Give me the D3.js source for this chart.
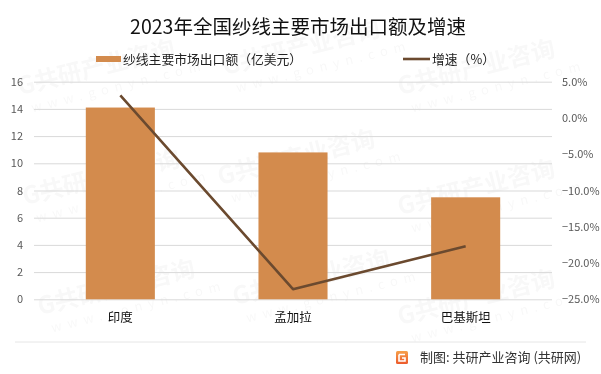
<!DOCTYPE html>
<html>
<head>
<meta charset="utf-8">
<script src="https://cdn.jsdelivr.net/npm/d3@7/dist/d3.min.js"></script>
<style type="text/css">
    body { margin: 0; padding: 0; background: #fff; }
    text { font-family: "Noto Sans CJK SC", "Noto Sans", sans-serif; }
</style>
</head>
<body>
<div id="chart"></div>
<script>
    var categories = ["印度", "孟加拉", "巴基斯坦"];
    var exportValues = [14.1, 10.8, 7.5];      // 亿美元
    var growthRates = [3.1, -23.6, -17.7];     // %
    var leftTicks = [0, 2, 4, 6, 8, 10, 12, 14, 16];
    var rightTicks = [5, 0, -5, -10, -15, -20, -25];

    var width = 601, height = 374;
    var plotLeft = 34, plotRight = 552, plotTop = 81.7, plotBottom = 299.3;
    var barColor = "#d38b4d", lineColor = "#6b4a2f";

    var svg = d3.select("#chart").append("svg")
        .attr("width", width)
        .attr("height", height);

    svg.append("rect").attr("width", width).attr("height", height).attr("fill", "#fff");

    // watermark
    var wm = svg.append("g").attr("opacity", 0.03);
    var spots = [[20, 95], [225, 75], [400, 95], [25, 205], [220, 185], [400, 215],
                 [40, 315], [235, 305], [400, 325]];
    spots.forEach(function(p) {
        var g = wm.append("g").attr("transform", "translate(" + p[0] + "," + p[1] + ") rotate(-14)");
        g.append("text").attr("font-size", 24).attr("font-weight", 700).attr("fill", "#000")
            .text("G共研产业咨询");
        g.append("text").attr("x", 8).attr("y", 20).attr("font-size", 13)
            .attr("letter-spacing", 6).attr("fill", "#000").text("www.gonyn.com");
    });

    var x = d3.scaleBand().domain(categories).range([plotLeft, plotRight]).padding(0);
    var yL = d3.scaleLinear().domain([0, 16]).range([plotBottom, plotTop]);
    var yR = d3.scaleLinear().domain([-25, 5]).range([plotBottom, plotTop]);

    // grid + left axis
    var gl = svg.append("g").attr("transform", "translate(" + plotLeft + ",0)")
        .call(d3.axisLeft(yL).tickValues(leftTicks).tickSize(-(plotRight - plotLeft)).tickPadding(11));
    gl.select(".domain").remove();
    gl.selectAll("line").attr("stroke", "#d9d9d9");
    gl.selectAll("text").attr("fill", "#595959").attr("font-size", 11);

    var gr = svg.append("g").attr("transform", "translate(" + plotRight + ",0)")
        .call(d3.axisRight(yR).tickValues(rightTicks).tickSize(0).tickPadding(10)
            .tickFormat(function(d) { return d3.format(".1f")(d) + "%"; }));
    gr.select(".domain").remove();
    gr.selectAll("text").attr("fill", "#595959").attr("font-size", 11);

    // bars
    var bw = x.bandwidth() * 0.4;
    svg.append("g").selectAll("rect")
        .data(exportValues)
        .join("rect")
        .attr("x", function(d, i) { return x(categories[i]) + x.bandwidth() / 2 - bw / 2; })
        .attr("y", function(d) { return yL(d); })
        .attr("width", bw)
        .attr("height", function(d) { return yL(0) - yL(d); })
        .attr("fill", barColor);

    // line
    var line = d3.line()
        .x(function(d, i) { return x(categories[i]) + x.bandwidth() / 2; })
        .y(function(d) { return yR(d); });
    svg.append("path").datum(growthRates)
        .attr("d", line)
        .attr("fill", "none")
        .attr("stroke", lineColor)
        .attr("stroke-width", 2.6)
        .attr("stroke-linejoin", "round");

    // category labels
    var gx = svg.append("g").attr("transform", "translate(0," + plotBottom + ")")
        .call(d3.axisBottom(x).tickSize(0).tickPadding(14));
    gx.select(".domain").remove();
    gx.selectAll("text").attr("fill", "#111").attr("font-size", 12.5);

    // title
    svg.append("text").attr("x", 298).attr("y", 34).attr("text-anchor", "middle")
        .attr("font-size", 19.5).attr("fill", "#111")
        .text("2023年全国纱线主要市场出口额及增速");

    // legend
    svg.append("rect").attr("x", 96).attr("y", 56).attr("width", 25).attr("height", 6).attr("fill", barColor);
    svg.append("text").attr("x", 123).attr("y", 64).attr("font-size", 12.8).attr("fill", "#222")
        .text("纱线主要市场出口额（亿美元）");
    svg.append("line").attr("x1", 403).attr("x2", 430).attr("y1", 59).attr("y2", 59)
        .attr("stroke", lineColor).attr("stroke-width", 2.6);
    svg.append("text").attr("x", 432).attr("y", 64).attr("font-size", 12.8).attr("fill", "#222")
        .text("增速（%）");

    // footer
    svg.append("line").attr("x1", 15).attr("x2", 586).attr("y1", 342).attr("y2", 342)
        .attr("stroke", "#e6e6e6");
    var grad = svg.append("defs").append("linearGradient").attr("id", "lg")
        .attr("x1", 0).attr("y1", 0).attr("x2", 0).attr("y2", 1);
    grad.append("stop").attr("offset", 0).attr("stop-color", "#f6a04a");
    grad.append("stop").attr("offset", 1).attr("stop-color", "#ec5a2c");
    svg.append("rect").attr("x", 396).attr("y", 351).attr("width", 12).attr("height", 13)
        .attr("rx", 1.5).attr("fill", "url(#lg)");
    svg.append("path").attr("d", "M399,354.5 h6 M399,354.5 v6.5 h6 v-3 h-3")
        .attr("fill", "none").attr("stroke", "#fff").attr("stroke-width", 1.6);
    svg.append("text").attr("x", 420).attr("y", 362).attr("font-size", 13).attr("fill", "#333")
        .text("制图: 共研产业咨询 (共研网)");
</script>
</body>
</html>
